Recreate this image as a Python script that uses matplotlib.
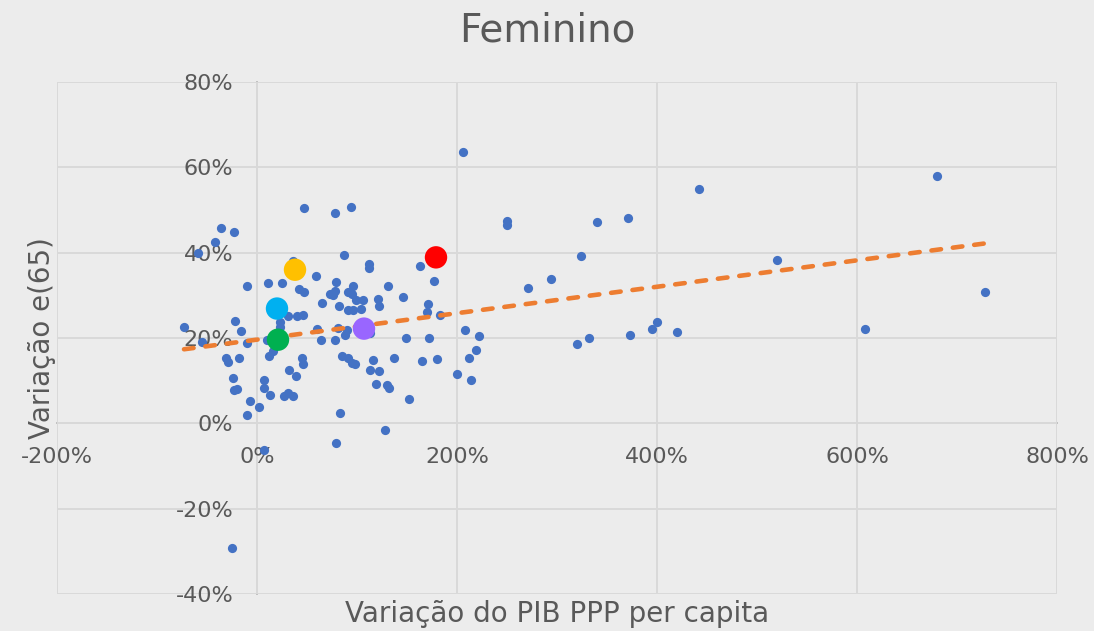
import numpy as np
import matplotlib
matplotlib.use("Agg")
import matplotlib.pyplot as plt
from matplotlib.ticker import FuncFormatter, MultipleLocator

# ---- data (percent units) ----
pib_var = [
    206, 442, 680, 47, 78, 94, -36, -23, -42, -59,
    250, 250, 340, 371, 87, 324, 520, 112, 112, 163,
    177, 59, 79, 11, 25, -10, 271, 294, 728, 42,
    47, 36, 131, 146, 65, 82, 73, 76, 78, 91,
    95, 96, 99, 106, 91, 96, 104, 121, 122, 171,
    170, 183, 31, 40, 46, 23, 23, -22, -73, -16,
    60, 64, 81, 90, 88, 78, 113, 208, 222, 219,
    212, 200, 214, 149, 172, 165, 180, 137, 116, 113,
    122, 119, 130, 132, 152, 83, 128, 79, 85, 91,
    95, 98, 45, 46, 32, 39, 27, 31, 36, 7,
    7, 13, 12, 16, -7, 2, -10, -31, -29, -18,
    -24, -23, -20, -10, -55, -25, 7, 10, 320, 332,
    373, 395, 400, 420, 608,
]
e65_var = [
    63.7, 54.9, 58.0, 50.5, 49.3, 50.8, 45.8, 44.9, 42.6, 40.0,
    46.4, 47.5, 47.2, 48.1, 39.4, 39.2, 38.3, 37.3, 36.5, 36.9,
    33.4, 34.6, 33.2, 33.0, 33.0, 32.1, 31.7, 33.8, 30.7, 31.6,
    30.8, 38.0, 32.2, 29.5, 28.2, 27.5, 30.2, 30.0, 30.9, 30.7,
    30.4, 32.3, 28.8, 28.8, 26.5, 26.5, 26.7, 29.2, 27.5, 27.9,
    26.1, 25.5, 25.1, 25.2, 25.3, 23.8, 22.6, 24.0, 22.6, 21.6,
    22.1, 19.5, 22.4, 21.8, 20.6, 19.6, 21.2, 21.9, 20.5, 17.1,
    15.2, 11.5, 10.2, 20.0, 20.1, 14.6, 15.1, 15.4, 14.8, 12.4,
    12.2, 9.2, 9.1, 8.2, 5.8, 2.4, -1.6, -4.7, 15.7, 15.2,
    14.1, 14.0, 15.2, 14.0, 12.6, 11.1, 6.3, 7.2, 6.5, 10.2,
    8.2, 6.7, 15.7, 16.9, 5.3, 3.8, 1.9, 15.4, 14.4, 15.4,
    10.7, 7.9, 8.1, 18.8, 19.1, -29.2, -6.3, 19.6, 18.7, 20.0,
    20.6, 22.0, 23.8, 21.3, 22.0,
]

highlight_x = [179, 38, 20, 21, 107]
highlight_y = [38.9, 36.0, 26.9, 19.6, 22.2]
highlight_colors = ["#FF0000", "#FFC000", "#00B0F0", "#00B050", "#9966FF"]

x_ticks = [-200, 0, 200, 400, 600, 800]
y_ticks = [-40, -20, 0, 20, 40, 60, 80]

title = "Feminino"
x_label = "Variação do PIB PPP per capita"
y_label = "Variação e(65)"

# ---- style ----
bg = "#ececec"
grid_c = "#d9d9d9"
axis_c = "#bfbfbf"
text_c = "#595959"
plt.rcParams["font.family"] = ["DejaVu Sans"]

fig = plt.figure(figsize=(10.94, 6.31), dpi=100, facecolor=bg)
ax = fig.add_axes([57 / 1094, 37 / 631, 1000 / 1094, 512 / 631], facecolor=bg)

ax.set_xlim(x_ticks[0], x_ticks[-1])
ax.set_ylim(y_ticks[0], y_ticks[-1])
ax.xaxis.set_major_locator(MultipleLocator(200))
ax.yaxis.set_major_locator(MultipleLocator(20))
fmt = FuncFormatter(lambda v, p: f"{v:.0f}%")
ax.xaxis.set_major_formatter(fmt)
ax.yaxis.set_major_formatter(fmt)

ax.grid(True, color=grid_c, linewidth=1.4, zorder=0)
ax.set_axisbelow(True)
for ln in ax.get_xgridlines() + ax.get_ygridlines():
    ln.set_clip_on(False)

for s in ["top", "right"]:
    ax.spines[s].set_visible(False)
ax.spines["left"].set_position(("data", 0))
ax.spines["bottom"].set_position(("data", 0))
for s in ["left", "bottom"]:
    ax.spines[s].set_color(axis_c)
    ax.spines[s].set_linewidth(1.4)
    ax.spines[s].set_zorder(0.5)

ax.tick_params(axis="both", length=0, labelsize=16, labelcolor=text_c)
ax.tick_params(axis="y", pad=17)
ax.tick_params(axis="x", pad=17)

# scatter
ax.scatter(pib_var, e65_var, s=44, color="#4472C4", linewidths=0, zorder=3)

# linear trendline
coef = np.polyfit(pib_var, e65_var, 1)
xs = np.array([min(pib_var), max(pib_var)])
ax.plot(xs, np.polyval(coef, xs), color="#ED7D31", linewidth=3.3,
        linestyle=(0, (2.1, 2.6)), dash_capstyle="round", zorder=4)

ax.scatter(highlight_x, highlight_y, s=260, c=highlight_colors, linewidths=0, zorder=5)

ax.set_xlabel(x_label, fontsize=20, color=text_c)
ax.xaxis.set_label_coords(0.5, -0.012)
ax.set_ylabel(y_label, fontsize=20, color=text_c)
ax.yaxis.set_label_coords(-0.001, 0.5)

fig.text(0.5, 1 - 42 / 631, title, ha="center", va="baseline", fontsize=28, color=text_c)

fig.savefig("out.png", dpi=100, facecolor=bg)
